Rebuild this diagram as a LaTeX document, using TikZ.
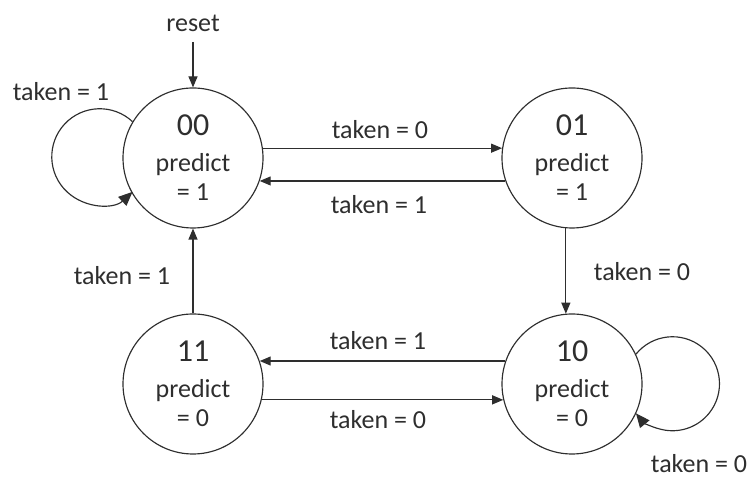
\documentclass[tikz,border=0pt]{standalone}
\usepackage{fontspec}
\setmainfont{Carlito}
\usetikzlibrary{arrows.meta}
\begin{document}
\begin{tikzpicture}[x=1pt,y=1pt,
  ink/.style={draw=black!82, line width=1.15pt},
  state/.style={circle, ink, minimum size=140pt, inner sep=0pt, align=center,
    text=black!82, font=\fontsize{26}{29}\selectfont},
  tag/.style={text=black!82, font=\fontsize{26}{29}\selectfont, inner sep=0pt},
  trans/.style={ink, -{Triangle[length=11pt,width=9pt]}},
  selfloop/.style={ink, -{Triangle[length=14pt,width=12pt]}},
]
\useasboundingbox (0,0) rectangle (755,478);
\newcommand\statenum[1]{{\fontsize{32}{36}\selectfont #1}}

% the four states of the two-bit predictor
\node[state] (s00) at (193,320) {\statenum{00}\\[7pt]predict\\= 1};
\node[state] (s01) at (572,320) {\statenum{01}\\[7pt]predict\\= 1};
\node[state] (s11) at (193,94)  {\statenum{11}\\[7pt]predict\\= 0};
\node[state] (s10) at (572,94)  {\statenum{10}\\[7pt]predict\\= 0};

% reset entry
\coordinate (rst) at (193,436);
\node[tag] (lreset) at (193,455) {reset};
\draw[trans] (rst) -- (s00.north);

% transitions
\draw[trans] (s00.8) -- (s01.172);
\draw[trans] (s01.199) -- (s00.-19);
\draw[trans] (s01.265) -- (s10.95);
\draw[trans] (s10.161) -- (s11.19);
\draw[trans] (s11.-13) -- (s10.193);
\draw[trans] (s11.north) -- (s00.south);

% self loops
\draw[selfloop] (s00.149) arc[start angle=47, end angle=313, radius=48];
\draw[selfloop] (s10.25) arc[start angle=141, end angle=-141, radius=47];

% transition labels
\node[tag] (l00)   at (61,386)  {taken = 1};
\node[tag] (l0001) at (380,348) {taken = 0};
\node[tag] (l0100) at (379,273) {taken = 1};
\node[tag] (l0110) at (642,206) {taken = 0};
\node[tag] (l1100) at (122,202) {taken = 1};
\node[tag] (l1011) at (378,137) {taken = 1};
\node[tag] (l1110) at (378,58)  {taken = 0};
\node[tag] (l10)   at (699,14)  {taken = 0};
\end{tikzpicture}
\end{document}
